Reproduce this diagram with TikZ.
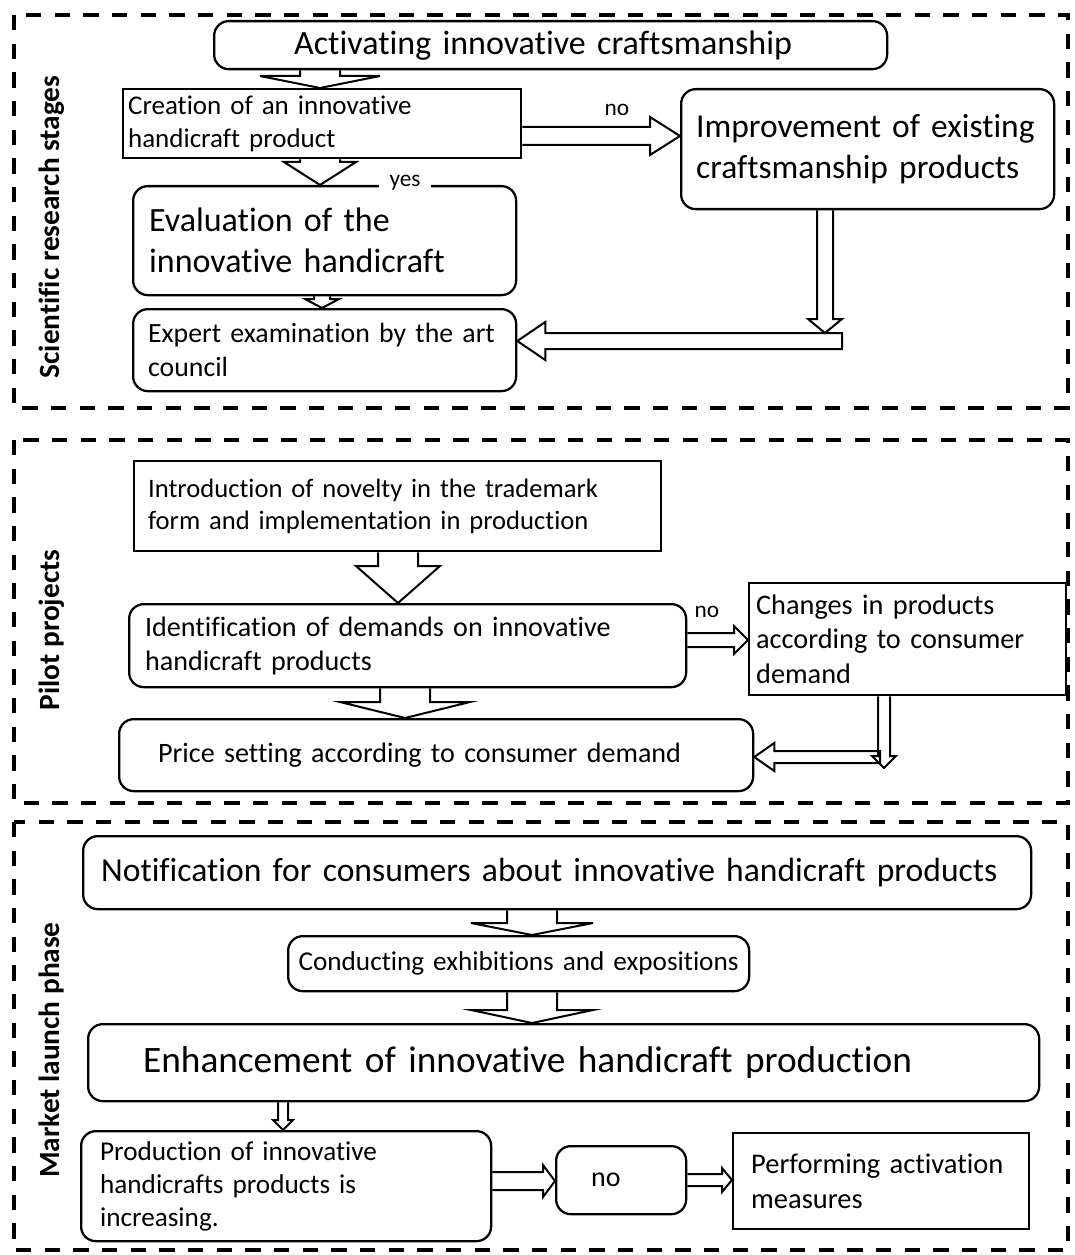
\documentclass[tikz,border=0pt]{standalone}
\usepackage{fontspec}
\setmainfont{Carlito}[Ligatures=NoCommon]
\usetikzlibrary{calc}
\hyphenpenalty=10000
\exhyphenpenalty=10000
\tikzset{
  boxline/.style={draw=black, line width=1.7pt},
  rbox/.style={boxline, rounded corners=11pt, align=left},
  sbox/.style={boxline, align=left},
  arrowline/.style={draw=black, line width=1.5pt, line join=miter},
  frame/.style={draw=black, line width=2.3pt, dash pattern=on 11.5pt off 10pt},
  phase/.style={rotate=90, font=\fontsize{22pt}{24pt}\selectfont\bfseries},
  lbl/.style={font=\fontsize{17.5pt}{19pt}\selectfont, inner sep=2pt},
}
% name, style, x1, y1, x2, y2, pad, font px, text
\newcommand{\bx}[9]{%
  \pgfmathsetmacro\bxw{(#5-#3)*0.75}%
  \pgfmathsetmacro\bxh{(#6-#4)*0.75}%
  \pgfmathsetmacro\bxt{(#5-#3-2*#7)*0.75}%
  \pgfmathsetmacro\bxp{#7*0.75}%
  \pgfmathsetmacro\bxf{#8*0.75}%
  \pgfmathsetmacro\bxb{#8*0.75*1.21}%
  \node[#2, anchor=north west, minimum width=\bxw pt, minimum height=\bxh pt,
        text width=\bxt pt, inner xsep=\bxp pt, inner ysep=0pt,
        font=\fontsize{\bxf pt}{\bxb pt}\selectfont] (#1) at (#3,#4) {#9};}
% down arrow: from, to, x px, shaft half, head half, head length
\newcommand{\dnarrow}[6]{%
  \draw[arrowline] let \p1=(#1), \p2=(#2) in
   ({(#3-#4)*0.75pt},\y1) -- ({(#3-#4)*0.75pt},{\y2+#6*0.75pt})
   -- ({(#3-#5)*0.75pt},{\y2+#6*0.75pt}) -- ({#3*0.75pt},\y2)
   -- ({(#3+#5)*0.75pt},{\y2+#6*0.75pt}) -- ({(#3+#4)*0.75pt},{\y2+#6*0.75pt})
   -- ({(#3+#4)*0.75pt},\y1);}
% right arrow: from, to, y px, shaft half, head half, head length
\newcommand{\rtarrow}[6]{%
  \draw[arrowline] let \p1=(#1), \p2=(#2) in
   (\x1,{-(#3-#4)*0.75pt}) -- ({\x2-#6*0.75pt},{-(#3-#4)*0.75pt})
   -- ({\x2-#6*0.75pt},{-(#3-#5)*0.75pt}) -- (\x2,{-#3*0.75pt})
   -- ({\x2-#6*0.75pt},{-(#3+#5)*0.75pt}) -- ({\x2-#6*0.75pt},{-(#3+#4)*0.75pt})
   -- (\x1,{-(#3+#4)*0.75pt});}
% left arrow with closed tail: from, to, y px, shaft half, head half, head length
\newcommand{\lfarrow}[6]{%
  \draw[arrowline] let \p1=(#1), \p2=(#2) in
   (\x1,{-(#3-#4)*0.75pt}) -- ({\x2+#6*0.75pt},{-(#3-#4)*0.75pt})
   -- ({\x2+#6*0.75pt},{-(#3-#5)*0.75pt}) -- (\x2,{-#3*0.75pt})
   -- ({\x2+#6*0.75pt},{-(#3+#5)*0.75pt}) -- ({\x2+#6*0.75pt},{-(#3+#4)*0.75pt})
   -- (\x1,{-(#3+#4)*0.75pt}) -- cycle;}
\begin{document}
\begin{tikzpicture}[x=0.75pt, y=-0.75pt]
\useasboundingbox (0,0) rectangle (1074,1255);
\fill[white] (0,0) rectangle (1074,1255);

% phase frames
\draw[frame] (14,15) rectangle (1068,408);
\draw[frame] (14,440) rectangle (1068,803);
\draw[frame] (14,822) rectangle (1068,1250);
\node[phase] (ph1) at (52,227) {Scientific research stages};
\node[phase] (ph2) at (52,630) {Pilot projects};
\node[phase] (ph3) at (52,1050) {Market launch phase};

% ---- Scientific research stages
\bx{act}{rbox}{213}{20}{886}{68}{80}{34}{Activating innovative craftsmanship}
\bx{cre}{sbox}{122}{88}{520}{157}{5}{27}{Creation of an innovative\\handicraft product}
\bx{imp}{rbox}{680}{88}{1053}{208}{15}{33.5}{Improvement of existing\\craftsmanship products}
\bx{eva}{rbox}{132}{185}{515}{294}{16}{34}{Evaluation of the\\innovative handicraft}
\bx{exp}{rbox}{132}{308}{515}{390}{15}{27.8}{Expert examination by the art\\council}
\node[lbl, fill=white, inner xsep=8pt] (yes) at (405,183) {yes};
\coordinate (j1) at (825,333);
\coordinate (j2) at (842,341);

\dnarrow{act.south}{cre.north}{320}{20}{60}{12}
\dnarrow{cre.south}{eva.north}{320}{20}{36}{23}
\dnarrow{eva.south}{exp.north}{322}{8}{17}{9}
\rtarrow{cre.east}{imp.west}{136}{9}{19}{30}
\node[lbl] (no1) at (617,110) {no};
\dnarrow{imp.south}{j1}{825}{8}{17}{14}
\lfarrow{j2}{exp.east}{341}{8}{19}{28}

% ---- Pilot projects
\bx{intro}{sbox}{133}{460}{660}{550}{14}{26.6}{Introduction of novelty in the trademark\\form and implementation in production}
\bx{ident}{rbox}{128}{603}{685}{686}{16}{28.1}{Identification of demands on innovative\\handicraft products}
\bx{chg}{sbox}{748}{582}{1065}{694}{7}{28.3}{Changes in products\\according to consumer\\demand}
\bx{price}{rbox}{118}{718}{752}{790}{39}{28.1}{Price setting according to consumer demand}
\coordinate (j3) at (884,768);
\coordinate (j4) at (880,757);

\dnarrow{intro.south}{ident.north}{398}{20}{42}{37}
\dnarrow{ident.south}{price.north}{405}{25}{65}{16}
\rtarrow{ident.east}{chg.west}{640}{7}{14}{14}
\node[lbl] (no2) at (707,612) {no};
\dnarrow{chg.south}{j3}{884}{6}{12}{12}
\lfarrow{j4}{price.east}{757}{6}{14}{20}

% ---- Market launch phase
\bx{notif}{rbox}{82}{835}{1030}{908}{18}{33.6}{Notification for consumers about innovative handicraft products}
\bx{cond}{rbox, align=center}{287}{935}{748}{990}{3}{27.2}{Conducting exhibitions and expositions}
\bx{enh}{rbox}{87}{1023}{1038}{1100}{55}{37.3}{Enhancement of innovative handicraft production}
\bx{prod}{rbox}{80}{1130}{490}{1240}{19}{27.2}{Production of innovative\\handicrafts products is\\increasing.}
\bx{noB}{rbox}{555}{1145}{685}{1213}{35}{28}{no}
\bx{perf}{sbox}{732}{1132}{1028}{1228}{18}{28.5}{Performing activation\\measures}

\dnarrow{notif.south}{cond.north}{532}{25}{61}{12}
\dnarrow{cond.south}{enh.north}{532}{25}{61}{13}
\dnarrow{enh.south}{prod.north}{283}{5}{10}{10}
\rtarrow{prod.east}{noB.west}{1181}{9}{16}{12}
\rtarrow{noB.east}{perf.west}{1180}{6}{12}{10}
\end{tikzpicture}
\end{document}
